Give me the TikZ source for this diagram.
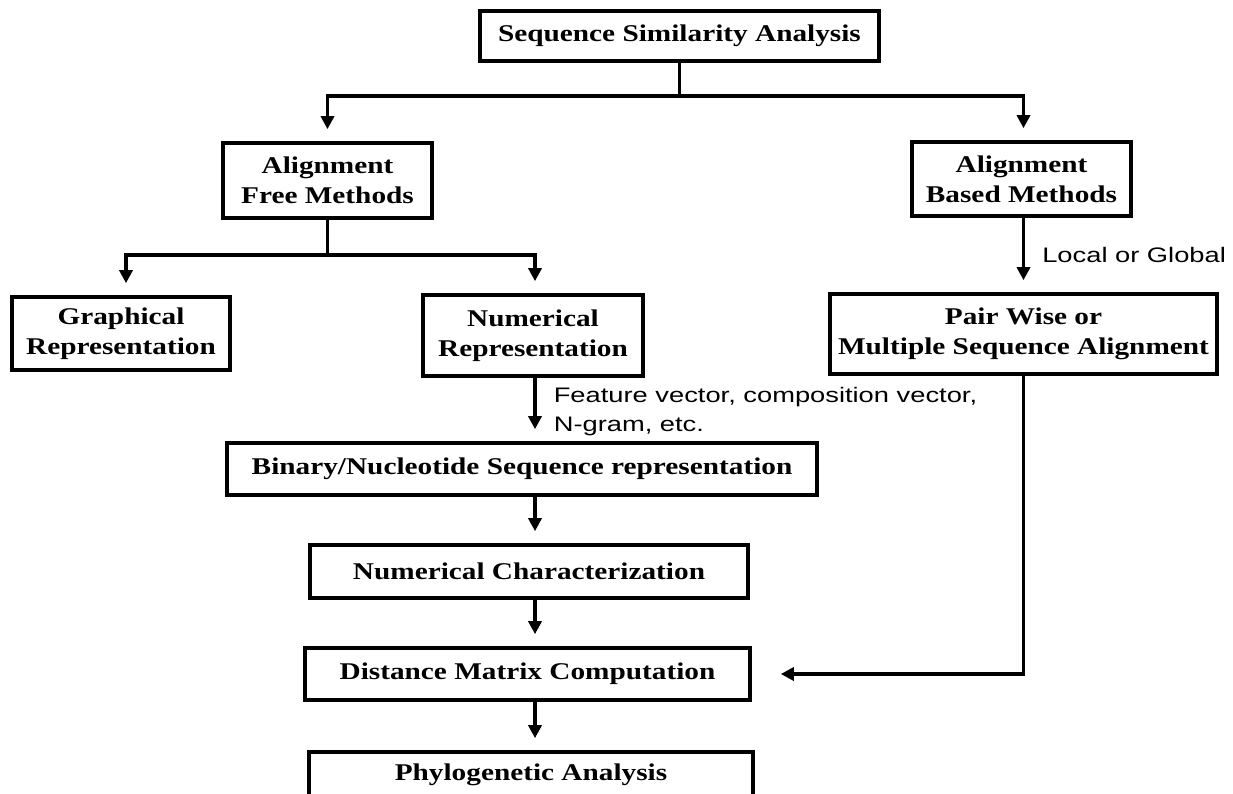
\documentclass[tikz,border=0pt]{standalone}
\usepackage{fontspec}
\usetikzlibrary{arrows.meta}
\newfontfamily\boxfont[FakeStretch=1.22]{Liberation Serif}
\newfontfamily\labfont[FakeStretch=1.3]{Liberation Sans}
\tikzset{
  stepbox/.style={draw, line width=3.6pt, inner sep=0pt, align=center,
    font=\boxfont\bfseries\fontsize{24}{30}\selectfont},
  link/.style={line width=3.6pt},
  flow/.style={line width=3.6pt, -{Triangle[width=13pt,length=13pt]}, shorten >=12pt},
  note/.style={font=\labfont\fontsize{21}{29}\selectfont, inner sep=0pt, align=left, anchor=west},
}
\begin{document}
\begin{tikzpicture}[x=1pt,y=-1pt]
\path[use as bounding box, fill=white] (0,0) rectangle (1233,794);

% boxes
\node[stepbox, minimum width=399pt, minimum height=50pt] (top) at (679.5,36) {Sequence Similarity Analysis};
\node[stepbox, minimum width=209pt, minimum height=75pt] (afm) at (327.5,180.5) {Alignment\\Free Methods};
\node[stepbox, minimum width=219pt, minimum height=74pt] (abm) at (1021.5,179) {Alignment\\Based Methods};
\node[stepbox, minimum width=218pt, minimum height=73pt] (graph) at (121,333.5) {Graphical\\Representation};
\node[stepbox, minimum width=220pt, minimum height=81pt] (numrep) at (533,335.5) {Numerical\\Representation};
\node[stepbox, minimum width=387pt, minimum height=80pt] (pair) at (1023.5,334) {Pair Wise or\\Multiple Sequence Alignment};
\node[stepbox, minimum width=590pt, minimum height=52pt] (binary) at (522,469) {Binary/Nucleotide Sequence representation};
\node[stepbox, minimum width=438pt, minimum height=53pt] (nchar) at (529,571.5) {Numerical Characterization};
\node[stepbox, minimum width=445pt, minimum height=52pt] (dist) at (527.5,674) {Distance Matrix Computation};
\node[stepbox, minimum width=444pt, minimum height=46pt] (phylo) at (531,775) {Phylogenetic Analysis};

% bus lines and branches
\coordinate (bus1) at (0,96);
\coordinate (bus2) at (0,255);
\coordinate (col) at ([xshift=2pt]numrep.south);

\draw[link] (top.south) -- (top.south |- bus1);
\draw[flow] (top.south |- bus1) -| (afm.north);
\draw[flow] (top.south |- bus1) -| (pair.north |- abm.north);

\draw[link] (afm.south) -- (afm.south |- bus2);
\draw[flow] (afm.south |- bus2) -| ([xshift=5pt]graph.north);
\draw[flow] (afm.south |- bus2) -| (col |- numrep.north);

\draw[flow] (pair.north |- abm.south) -- node[note, xshift=17pt] {Local or Global} (pair.north);

\draw[flow] (col) -- node[note, xshift=17pt, yshift=-2pt] {Feature vector, composition vector,\\N-gram, etc.} (col |- binary.north);
\draw[flow] (col |- binary.south) -- (col |- nchar.north);
\draw[flow] (col |- nchar.south) -- (col |- dist.north);
\draw[flow] (col |- dist.south) -- (col |- phylo.north);

\draw[flow, shorten >=29pt] (pair.south) |- (dist.east);
\end{tikzpicture}
\end{document}
